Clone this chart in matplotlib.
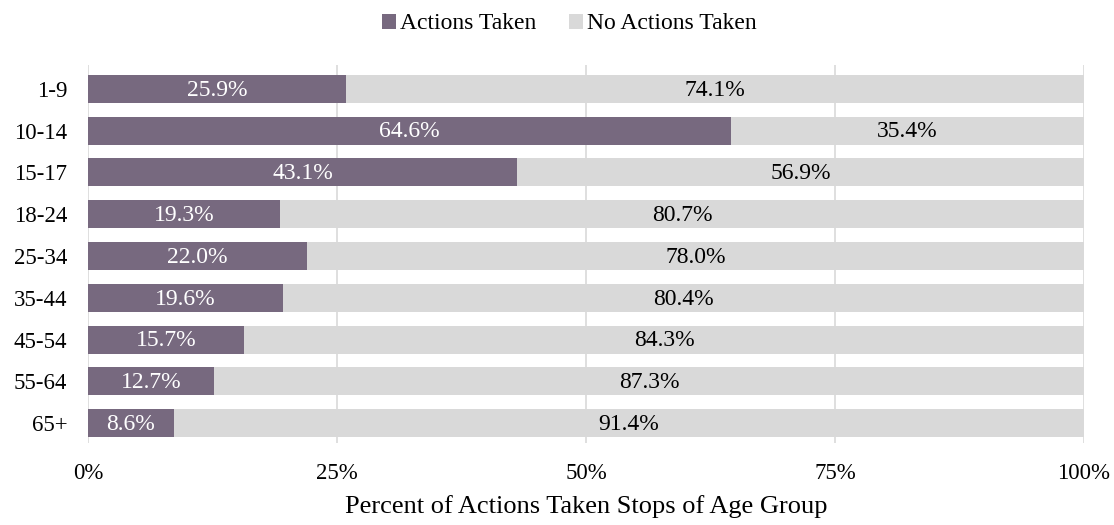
import numpy as np
import matplotlib.pyplot as plt
from matplotlib.ticker import FuncFormatter

age_groups = ["1-9", "10-14", "15-17", "18-24", "25-34", "35-44", "45-54", "55-64", "65+"]
actions_taken = [25.9, 64.6, 43.1, 19.3, 22.0, 19.6, 15.7, 12.7, 8.6]
no_actions_taken = [74.1, 35.4, 56.9, 80.7, 78.0, 80.4, 84.3, 87.3, 91.4]

purple = "#77697f"
grey = "#d9d9d9"

plt.rcParams["font.family"] = ["Liberation Serif", "DejaVu Serif"]

fig = plt.figure(figsize=(11.14, 5.25), dpi=100)
ax = fig.add_axes([0.079, 0.156, 0.894, 0.72])

y = np.arange(len(age_groups))
b1 = ax.barh(y, actions_taken, height=0.67, color=purple, label="Actions Taken", zorder=2)
b2 = ax.barh(y, no_actions_taken, left=actions_taken, height=0.67, color=grey,
             label="No Actions Taken", zorder=2)

for i in range(len(age_groups)):
    ax.text(actions_taken[i] / 2, y[i] + 0.03, "%.1f%%" % actions_taken[i], ha="center", va="center",
            color="white", fontsize=17, zorder=3)
    ax.text(actions_taken[i] + no_actions_taken[i] / 2, y[i] + 0.03, "%.1f%%" % no_actions_taken[i],
            ha="center", va="center", color="black", fontsize=17, zorder=3)

ax.set_xlim(0, 100)
ax.set_ylim(8.48, -0.57)
ax.set_yticks(y)
ax.set_yticklabels(age_groups)
ax.set_xticks([0, 25, 50, 75, 100])
ax.xaxis.set_major_formatter(FuncFormatter(lambda v, p: "%d%%" % v))
ax.tick_params(axis="both", length=0, labelsize=16.5)
ax.tick_params(axis="x", pad=14)
ax.tick_params(axis="y", pad=15)
ax.grid(axis="x", color="#d9d9d9", linewidth=1.2, zorder=0)
for s in ax.spines.values():
    s.set_visible(False)
ax.set_xlabel("Percent of Actions Taken Stops of Age Group", fontsize=19, labelpad=8)

fig.legend(handles=[b1, b2], loc="upper center", bbox_to_anchor=(0.511, 1.015), ncol=2,
           frameon=False, fontsize=17, handlelength=0.6, handleheight=0.6,
           handletextpad=0.15, columnspacing=1.4)

fig.savefig("out.png", dpi=100)
